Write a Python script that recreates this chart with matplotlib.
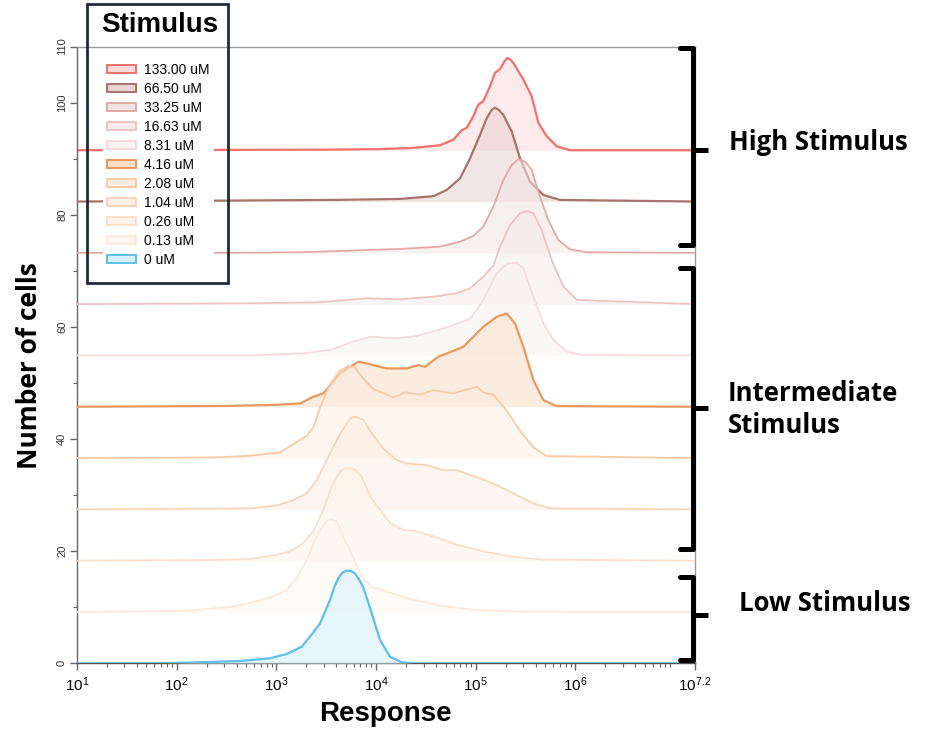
import matplotlib
matplotlib.use("Agg")
import matplotlib.pyplot as plt
from matplotlib.patches import Patch, Rectangle
from matplotlib.lines import Line2D
import matplotlib.transforms as mtransforms
import numpy as np

# ---------------- data (log10 response, height above own baseline) ----------------
LABELS = ["133.00 uM", "66.50 uM", "33.25 uM", "16.63 uM", "8.31 uM", "4.16 uM",
          "2.08 uM", "1.04 uM", "0.26 uM", "0.13 uM", "0 uM"]
OFFSETS = [91.5, 82.35, 73.2, 64.05, 54.9, 45.75, 36.6, 27.45, 18.3, 9.15, 0.0]

LX_133 = [1.0, 3.5, 4.041, 4.375, 4.643, 4.777, 4.86, 4.91, 4.977, 5.027, 5.077, 5.144, 5.194, 5.245,
          5.29, 5.318, 5.345, 5.378, 5.479, 5.562, 5.629, 5.713, 5.813, 5.946, 7.2]
H_133 = [0, 0.1, 0.2, 0.42, 0.89, 1.9, 3.57, 3.98, 6.06, 8.15, 8.74, 11.41, 13.79, 14.5,
         15.9, 16.47, 16.2, 15.58, 12.6, 9.63, 4.88, 2.5, 0.71, 0, 0]

LX_665 = [1.0, 3.57, 4.242, 4.576, 4.71, 4.844, 4.944, 5.044, 5.111, 5.16, 5.194, 5.235, 5.278, 5.362,
          5.445, 5.545, 5.679, 5.846, 7.2]
H_665 = [0, 0.29, 0.46, 0.95, 2.07, 4.15, 7.72, 11.88, 14.86, 16.3, 16.75, 16.3, 15.45, 12.47,
         7.72, 3.56, 1.18, 0.29, 0]

LX_3325 = [1.0, 2.5, 3.239, 4.242, 4.643, 4.844, 4.977, 5.077, 5.178, 5.278, 5.362, 5.428, 5.495,
           5.562, 5.645, 5.729, 5.829, 5.946, 6.114, 7.2]
H_3325 = [0, 0, 0.1, 0.70, 1.11, 2.0, 3.0, 4.68, 8.24, 13.0, 15.68, 16.69, 16.27,
          14.79, 10.0, 5.86, 2.3, 0.64, 0.1, 0]

LX_1663 = [1.0, 2.737, 3.406, 3.908, 4.242, 4.576, 4.81, 4.944, 5.077, 5.178, 5.245, 5.345, 5.445,
           5.512, 5.579, 5.662, 5.763, 5.88, 6.014, 7.2]
H_1663 = [0, 0.15, 0.33, 1.05, 0.87, 1.34, 1.94, 2.83, 4.91, 6.9, 10.26, 14.12, 16.2,
          16.62, 16.2, 13.24, 7.88, 3.13, 0.75, 0]

LX_831 = [1.0, 2.737, 3.272, 3.54, 3.773, 3.941, 4.175, 4.375, 4.576, 4.777, 4.944, 5.077, 5.212,
          5.312, 5.412, 5.479, 5.579, 5.679, 5.779, 5.913, 6.08, 7.2]
H_831 = [0, 0, 0.39, 0.98, 2.47, 3.36, 3.06, 3.36, 4.25, 5.44, 6.5, 9.9, 14.65,
         16.32, 16.56, 15.55, 10.49, 5.74, 2.76, 0.68, 0.09, 0]

LX_416 = [1.0, 2.5, 3.0, 3.239, 3.372, 3.472, 3.640, 3.741, 3.824, 3.908, 4.108, 4.309, 4.425,
          4.492, 4.626, 4.877, 5.077, 5.212, 5.312, 5.395, 5.479, 5.579, 5.679, 5.813, 7.2]
H_416 = [0, 0.15, 0.35, 0.59, 1.78, 2.38, 5.95, 7.13, 8.03, 7.73, 6.84, 6.84, 7.43,
         7.13, 8.92, 10.70, 14.27, 16.05, 16.65, 14.86, 10.70, 4.76, 1.19, 0.12, 0]

LX_208 = [1.0, 2.403, 2.737, 2.938, 3.038, 3.172, 3.306, 3.372, 3.44, 3.54, 3.64, 3.724, 3.79,
          3.874, 3.974, 4.175, 4.292, 4.442, 4.576, 4.777, 5.011, 5.077, 5.178, 5.312, 5.445,
          5.579, 5.713, 7.2]
H_208 = [0, 0.12, 0.42, 0.83, 1.01, 2.50, 3.98, 5.47, 9.04, 13.2, 15.58, 16.47, 16.17,
         14.09, 12.31, 10.82, 11.71, 11.3, 12.13, 11.53, 12.72, 11.71, 11.3, 8.44, 4.88,
         1.90, 0.36, 0]

LX_104 = [1.0, 2.737, 3.005, 3.172, 3.306, 3.406, 3.506, 3.607, 3.707, 3.750, 3.790, 3.874, 3.958,
          4.074, 4.208, 4.309, 4.51, 4.676, 4.81, 5.044, 5.212, 5.412, 5.579, 5.746, 7.2]
H_104 = [0, 0.18, 0.71, 1.66, 2.85, 5.23, 8.8, 12.37, 15.34, 16.3, 16.53, 15.93, 13.56,
         10.88, 8.8, 8.2, 7.9, 7.0, 7.0, 5.53, 4.34, 2.56, 1.07, 0.18, 0]

LX_026 = [1.0, 2.403, 2.737, 3.005, 3.138, 3.272, 3.372, 3.472, 3.557, 3.640, 3.707, 3.790, 3.857,
          3.941, 4.041, 4.141, 4.275, 4.409, 4.576, 4.81, 5.077, 5.345, 5.679, 7.2]
H_026 = [0, 0.12, 0.30, 1.07, 1.66, 3.15, 5.23, 9.10, 13.26, 15.93, 16.53, 16.23, 15.04,
         11.47, 9.10, 6.72, 5.53, 5.23, 4.34, 2.85, 1.66, 0.77, 0.18, 0]

LX_013 = [1.0, 2.135, 2.537, 2.804, 2.971, 3.105, 3.206, 3.306, 3.406, 3.49, 3.546, 3.607, 3.673,
          3.773, 3.857, 3.958, 4.074, 4.309, 4.643, 4.977, 5.479, 7.2]
H_013 = [0, 0.24, 0.89, 1.90, 2.79, 3.98, 6.06, 9.33, 13.5, 15.99, 16.59, 16.17, 13.5,
         9.63, 6.36, 4.46, 3.86, 2.50, 1.13, 0.42, 0.06, 0]

LX_0 = [1.0, 1.834, 2.135, 2.637, 2.938, 3.105, 3.256, 3.339, 3.44, 3.54, 3.58, 3.623, 3.665, 3.707,
        3.75, 3.79, 3.83, 3.874, 3.958, 4.041, 4.141, 4.259, 4.375, 7.2]
H_0 = [0, 0, 0.12, 0.41, 0.89, 1.66, 2.97, 4.76, 7.13, 11.29, 13.5, 15.2, 16.2, 16.55,
       16.45, 16.0, 15.0, 13.5, 8.92, 4.16, 1.18, 0.18, 0, 0]

SERIES_LX = [LX_133, LX_665, LX_3325, LX_1663, LX_831, LX_416, LX_208, LX_104, LX_026, LX_013, LX_0]
SERIES_H = [H_133, H_665, H_3325, H_1663, H_831, H_416, H_208, H_104, H_026, H_013, H_0]

LINE_COLORS = ["#F4706C", "#A7736A", "#E3A9A5", "#ECC3C1", "#F3DCDB", "#EC985C",
               "#F7CBA8", "#F9D5B8", "#FADFCA", "#FCE9DB", "#5CC0EA"]
FILL_COLORS = ["#FCD9D9", "#E8D3D0", "#F3E3E2", "#F6EAEA", "#FAF2F2", "#F9DEC8",
               "#FDEDE0", "#FDEFE4", "#FEF3EA", "#FEF6F0", "#D5F0FC"]

XTICK_EXP = [1, 2, 3, 4, 5, 6, 7.2]
YTICKS = [0, 20, 40, 60, 80, 100, 110]

BRACKETS = [(109.7, 74.6, 91.5), (70.5, 20.4, 45.5), (15.4, 0.6, 8.6)]
BRACKET_TEXT = ["High Stimulus", "Intermediate\nStimulus", "Low Stimulus"]

# ---------------- figure ----------------
W, H = 933, 748
fig = plt.figure(figsize=(W / 100, H / 100), dpi=100)
L0, R0, B0, T0 = 76.8, 695.0, 663.3, 46.5
ax = fig.add_axes([L0 / W, 1 - B0 / H, (R0 - L0) / W, (B0 - T0) / H])

for i, (lx, hh) in enumerate(zip(SERIES_LX, SERIES_H)):
    x = 10 ** np.array(lx)
    base = OFFSETS[i]
    y = base + np.array(hh)
    z = 2 + i
    ax.fill_between(x, base, y, color=FILL_COLORS[i], alpha=0.55, lw=0, zorder=z)
    lw = 1.6 if i in (0, 1, 5, 10) else 1.3
    ax.plot(x, y, color=LINE_COLORS[i], lw=lw, zorder=z + 0.5, solid_joinstyle="round")

ax.set_xscale("log")
ax.set_xlim(10 ** 1, 10 ** 7.2)
ax.set_ylim(0, 110)

narrow = ["Liberation Sans Narrow", "Liberation Sans", "DejaVu Sans"]
ax.set_xticks([10 ** e for e in XTICK_EXP])
ax.set_xticklabels([r"$\mathregular{10^{%s}}$" % (int(e) if float(e).is_integer() else e) for e in XTICK_EXP],
                   fontsize=11, family=narrow)
ax.xaxis.set_minor_locator(matplotlib.ticker.LogLocator(base=10, subs=np.arange(2, 10), numticks=20))
ax.xaxis.set_minor_formatter(matplotlib.ticker.NullFormatter())
ax.set_yticks(YTICKS)
ax.set_yticklabels([str(v) for v in YTICKS], rotation=90, va="center", fontsize=8,
                   family=["Liberation Sans", "DejaVu Sans"], color="#333333")
ax.set_yticks([10, 30, 50, 70, 90], minor=True)
ax.tick_params(axis="both", which="major", direction="out", length=5, width=1, color="#666666")
ax.tick_params(axis="both", which="minor", direction="out", length=3, width=0.8, color="#666666")
ax.tick_params(axis="x", pad=4)
ax.tick_params(axis="y", pad=2)
for s in ax.spines.values():
    s.set_color("#9a9a9a")
    s.set_linewidth(1)
ax.spines["left"].set_color("#666666")
ax.spines["bottom"].set_color("#555555")

ax.set_xlabel("Response", fontsize=20, fontweight="bold", family=narrow, labelpad=5)
fig.text(30 / W, 1 - 366 / H, "Number of cells", rotation=90, ha="center", va="center",
         fontsize=19, fontweight="bold", family=["Open Sans", "DejaVu Sans"])

# legend
handles = [Patch(facecolor=FILL_COLORS[i], edgecolor=LINE_COLORS[i], linewidth=1.4) for i in range(len(LABELS))]
leg = fig.legend(handles, LABELS, loc="upper left", bbox_to_anchor=(103 / W, 1 - 59 / H),
                 frameon=True, fancybox=False, facecolor="white", edgecolor="none", framealpha=1,
                 prop={"family": ["Liberation Sans", "DejaVu Sans"], "size": 10},
                 handlelength=2.1, handleheight=0.55, handletextpad=0.55, labelspacing=0.36,
                 borderpad=0.3, borderaxespad=0)
leg.set_zorder(20)
fig.patches.append(Rectangle((87.3 / W, 1 - 283.3 / H), (228.3 - 87.3) / W, (283.3 - 4) / H,
                             transform=fig.transFigure, fill=False, edgecolor="#1e2b38", lw=2, zorder=30))
fig.text(160 / W, 1 - 25 / H, "Stimulus", ha="center", va="center", fontsize=20, fontweight="bold",
         family=["Liberation Sans", "DejaVu Sans"])

# brackets
trans = mtransforms.blended_transform_factory(ax.transAxes, ax.transData)
xa, xv, xn = 0.976, 0.997, 1.021
for (top, bot, mid) in BRACKETS:
    ax.add_line(Line2D([xa, xv, xv, xa], [top, top, bot, bot], transform=trans, color="black", lw=3.6,
                       solid_joinstyle="round", solid_capstyle="round", clip_on=False, zorder=40))
    ax.add_line(Line2D([xv, xn], [mid, mid], transform=trans, color="black", lw=3.6,
                       solid_capstyle="butt", clip_on=False, zorder=40))
bfont = ["Open Sans", "DejaVu Sans"]
ax.text(1.055, 92.8, BRACKET_TEXT[0], transform=trans, ha="left", va="center", fontsize=18.5,
        fontweight="bold", family=bfont)
ax.text(1.053, 45.2, BRACKET_TEXT[1], transform=trans, ha="left", va="center", fontsize=18.5,
        fontweight="bold", family=bfont, linespacing=1.25)
ax.text(1.071, 10.6, BRACKET_TEXT[2], transform=trans, ha="left", va="center", fontsize=18.5,
        fontweight="bold", family=bfont)

fig.savefig("out.png", dpi=100, facecolor="white")
